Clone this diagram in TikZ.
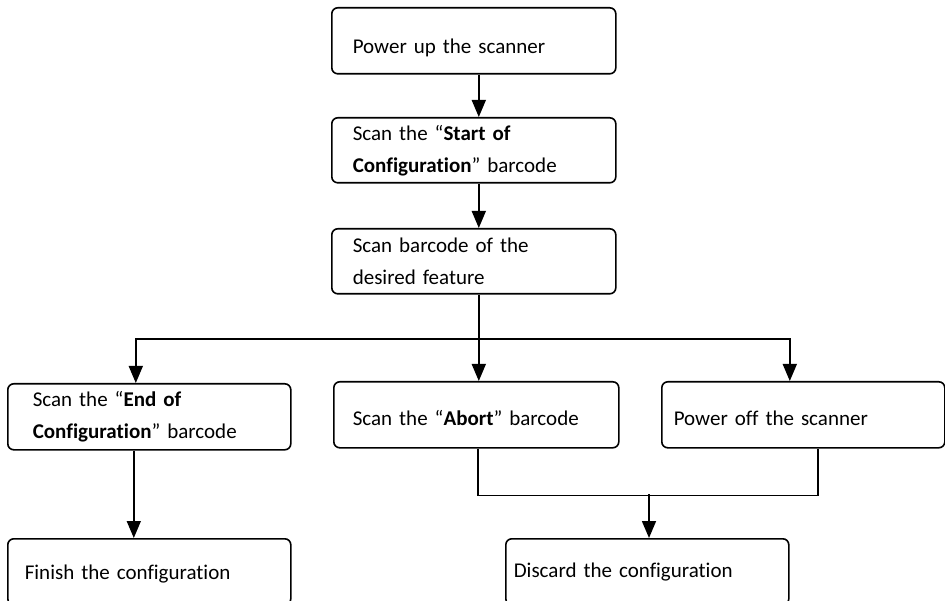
\documentclass[tikz,border=0pt]{standalone}
\usepackage{fontspec}
\setmainfont{Carlito}[Ligatures=NoCommon]
\usetikzlibrary{arrows.meta}
\newcommand{\lowertext}[2]{\raisebox{-#1}[\height][\depth]{#2}}
\begin{document}
\begin{tikzpicture}[x=1pt,y=-1pt,
  box/.style={draw, line width=1.6pt, rounded corners=6pt, anchor=north west,
    align=left, font=\fontsize{21}{32}\selectfont, inner ysep=0pt},
  arr/.style={line width=1.6pt, -{Triangle[width=14pt,length=17pt]}},
  ln/.style={line width=1.6pt}]
\useasboundingbox (0,0) rectangle (945,601);
\clip (0,0) rectangle (945,601);
\node[box, minimum width=284pt, minimum height=66pt, inner xsep=21pt, text width=242pt] (b1) at (331,7) {\lowertext{7pt}{Power up the scanner}};
\node[box, minimum width=284pt, minimum height=65pt, inner xsep=21pt, text width=242pt] (b2) at (331,117) {Scan the “\textbf{Start of}\\\textbf{Configuration}” barcode};
\node[box, minimum width=284pt, minimum height=65pt, inner xsep=21pt, text width=242pt] (b3) at (331,228) {Scan barcode of the\\desired feature};
\node[box, minimum width=283pt, minimum height=66pt, inner xsep=25pt, text width=233pt] (e) at (7,383) {Scan the “\textbf{End of}\\\textbf{Configuration}” barcode};
\node[box, minimum width=285pt, minimum height=66pt, inner xsep=19pt, text width=247pt] (a) at (333,381) {\lowertext{3pt}{Scan the “\textbf{Abort}” barcode}};
\node[box, minimum width=283pt, minimum height=66pt, inner xsep=12pt, text width=259pt] (p) at (661,381) {\lowertext{3pt}{Power off the scanner}};
\node[box, minimum width=283pt, minimum height=66pt, inner xsep=17pt, text width=249pt] (f) at (7,538) {\lowertext{2pt}{Finish the configuration}};
\node[box, minimum width=283pt, minimum height=66pt, inner xsep=8pt, text width=267pt] (d) at (505,538) {Discard the configuration};
\coordinate (br) at (478,339);
\coordinate (m) at (649,494);
\draw[arr] ([xshift=5pt]b1.south) -- ([xshift=5pt]b2.north);
\draw[arr] ([xshift=5pt]b2.south) -- ([xshift=5pt]b3.north);
\draw[arr] ([xshift=5pt]b3.south) -- ([xshift=2.5pt]a.north);
\draw[arr] (br) -| ([xshift=-13.5pt]e.north);
\draw[arr] (br) -| ([xshift=-13.5pt]p.north);
\draw[arr] ([xshift=-15.5pt]e.south) -- ([xshift=-15.5pt]f.north);
\draw[ln] ([xshift=1.5pt]a.south) -- ++(0,47) -| ([xshift=14.5pt]p.south);
\draw[arr] (m) -- (m |- d.north);
\end{tikzpicture}
\end{document}
